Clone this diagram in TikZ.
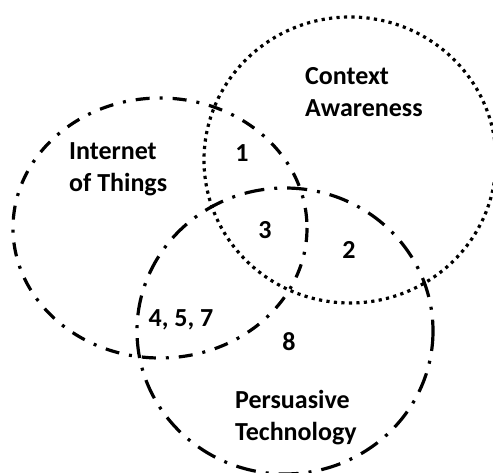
\documentclass[tikz,border=0pt]{standalone}
\usepackage{fontspec}
\setmainfont{Carlito}

\begin{document}
\begin{tikzpicture}[x=1pt, y=-1pt,
    setname/.style={font=\bfseries\fontsize{26}{32}\selectfont, align=left, inner sep=0pt},
    region/.style={font=\bfseries\fontsize{26}{32}\selectfont, inner sep=0pt},
    iotline/.style={line width=3.2pt, dash pattern=on 14pt off 10pt on 3pt off 10pt},
    ptline/.style={line width=3.2pt, dash pattern=on 20pt off 10pt on 3pt off 10pt},
    caline/.style={line width=3.2pt, dash pattern=on 3.2pt off 4.3pt}]
    \useasboundingbox (0,0) rectangle (493,473);

    % The three sets
    \draw [iotline] (160,228) ellipse [x radius=147, y radius=130];
    \draw [caline] (350,160) ellipse [x radius=146, y radius=143];
    \draw [ptline] (285,331) ellipse [x radius=148, y radius=143];

    % Set names
    \node [setname, anchor=north west] (iot) at (69,142) {Internet\\of Things};
    \node [setname, anchor=north west] (ca) at (305,67) {Context\\Awareness};
    \node [setname, anchor=north west] (pt) at (235,390) {Persuasive\\Technology};

    % Overlap regions
    \node [region] (r1) at (242,153) {1};
    \node [region] (r3) at (265,230) {3};
    \node [region] (r2) at (349,250) {2};
    \node [region] (r457) at (181,320) {4, 5, 7};
    \node [region] (r8) at (289,342) {8};
\end{tikzpicture}
\end{document}
